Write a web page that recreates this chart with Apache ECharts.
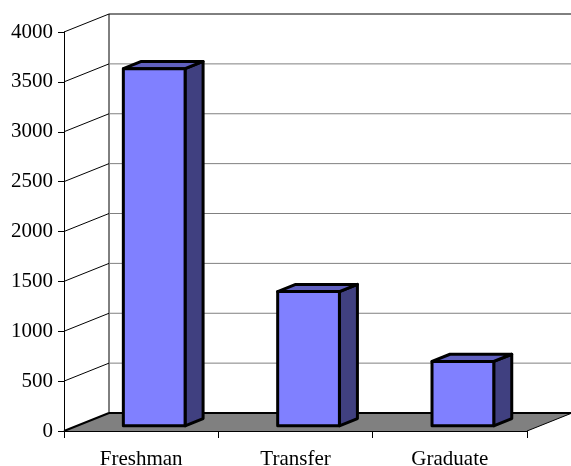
<!DOCTYPE html>
<html><head><meta charset="utf-8">
<style>html,body{margin:0;padding:0;background:#fff}#c{width:571px;height:466px}</style>
<script src="https://cdn.jsdelivr.net/npm/echarts@6/dist/echarts.min.js"></script>
</head><body><div id="c"></div>
<script>
const categories = ['Freshman', 'Transfer', 'Graduate'];
const values = [3580, 1345, 645];
const yTicks = [0, 500, 1000, 1500, 2000, 2500, 3000, 3500, 4000];

const DX = 45, DY = -18;          // depth projection of the chart box
const BAR_NEAR = 0.29, BAR_FAR = 0.69, BAR_WIDTH = 0.4;
const FONT = '"Liberation Serif", "Times New Roman", serif';

const chart = echarts.init(document.getElementById('c'), null, {renderer: 'canvas'});

function line(x1, y1, x2, y2, stroke, lw) {
  return {type: 'line', shape: {x1, y1, x2, y2}, style: {stroke, lineWidth: lw, fill: null}, silent: true};
}
function poly(points, fill, stroke, lw) {
  return {type: 'polygon', shape: {points}, style: {fill, stroke, lineWidth: lw, lineJoin: 'round'}, silent: true};
}

function renderWall(params, api) {
  if (params.dataIndex !== 0) {
    const v = api.value(0);
    const p = api.coord([0, v]);
    const x0 = params.coordSys.x;
    const bk = v === yTicks[yTicks.length - 1] ? '#000' : '#808080';
    return {type: 'group', children: [
      line(x0, p[1], x0 + DX, p[1] + DY, '#000', 1),
      line(x0 + DX, p[1] + DY, 571, p[1] + DY, bk, 1)
    ]};
  }
  const cs = params.coordSys;
  const x0 = cs.x, x1 = cs.x + cs.width, yb = cs.y + cs.height, yt = cs.y;
  return {type: 'group', children: [
    poly([[x0, yb], [x1, yb], [x1 + DX, yb + DY], [x0 + DX, yb + DY]], '#808080', null, 0),
    line(x0 + DX, yt + DY, x0 + DX, yb + DY, '#000', 1),
    line(x0 + DX, yb + DY, x1 + DX, yb + DY, '#000', 2),
    line(x0, yb, x0 + DX, yb + DY, '#000', 2),
    line(x1, yb, x1 + DX, yb + DY, '#000', 1)
  ]};
}

function renderBar(params, api) {
  const base = api.coord([api.value(0), 0]);
  const top = api.coord([api.value(0), api.value(1)]);
  const band = api.size([1, 0])[0];
  const w = band * BAR_WIDTH;
  const nx = DX * BAR_NEAR, ny = DY * BAR_NEAR;
  const fx = DX * (BAR_FAR - BAR_NEAR), fy = DY * (BAR_FAR - BAR_NEAR);
  const l = base[0] - w / 2 + nx, r = l + w;
  const b = base[1] + ny, t = top[1] + ny;
  const lw = 3;
  return {type: 'group', children: [
    poly([[r, t], [r + fx, t + fy], [r + fx, b + fy], [r, b]], '#404080', '#000', lw),
    poly([[l, t], [l + fx, t + fy], [r + fx, t + fy], [r, t]], '#6060BF', '#000', lw),
    poly([[l, t], [r, t], [r, b], [l, b]], '#8080FF', '#000', lw)
  ]};
}

chart.setOption({
  animation: false,
  backgroundColor: '#fff',
  grid: {left: 64, right: 44, top: 32, bottom: 35, containLabel: false, outerBoundsMode: 'none'},
  xAxis: {
    type: 'category', data: categories,
    axisLine: {show: true, lineStyle: {color: '#000', width: 1}},
    axisTick: {show: true, length: 7, lineStyle: {color: '#000'}},
    axisLabel: {color: '#000', fontFamily: FONT, fontSize: 21, margin: 18},
    splitLine: {show: false}
  },
  yAxis: {
    type: 'value', min: 0, max: 4000, interval: 500,
    axisLine: {show: true, lineStyle: {color: '#000', width: 1}},
    axisTick: {show: true, length: 6, lineStyle: {color: '#000'}},
    axisLabel: {color: '#000', fontFamily: FONT, fontSize: 21, margin: 11,
                formatter: v => String(v)},
    splitLine: {show: false}
  },
  series: [
    {type: 'custom', clip: false, z: 1, renderItem: renderWall,
     encode: {y: 0}, data: yTicks.map(v => [v])},
    {type: 'custom', clip: false, z: 3, renderItem: renderBar,
     encode: {x: 0, y: 1}, data: values.map((v, i) => [i, v])}
  ]
});
</script></body></html>
